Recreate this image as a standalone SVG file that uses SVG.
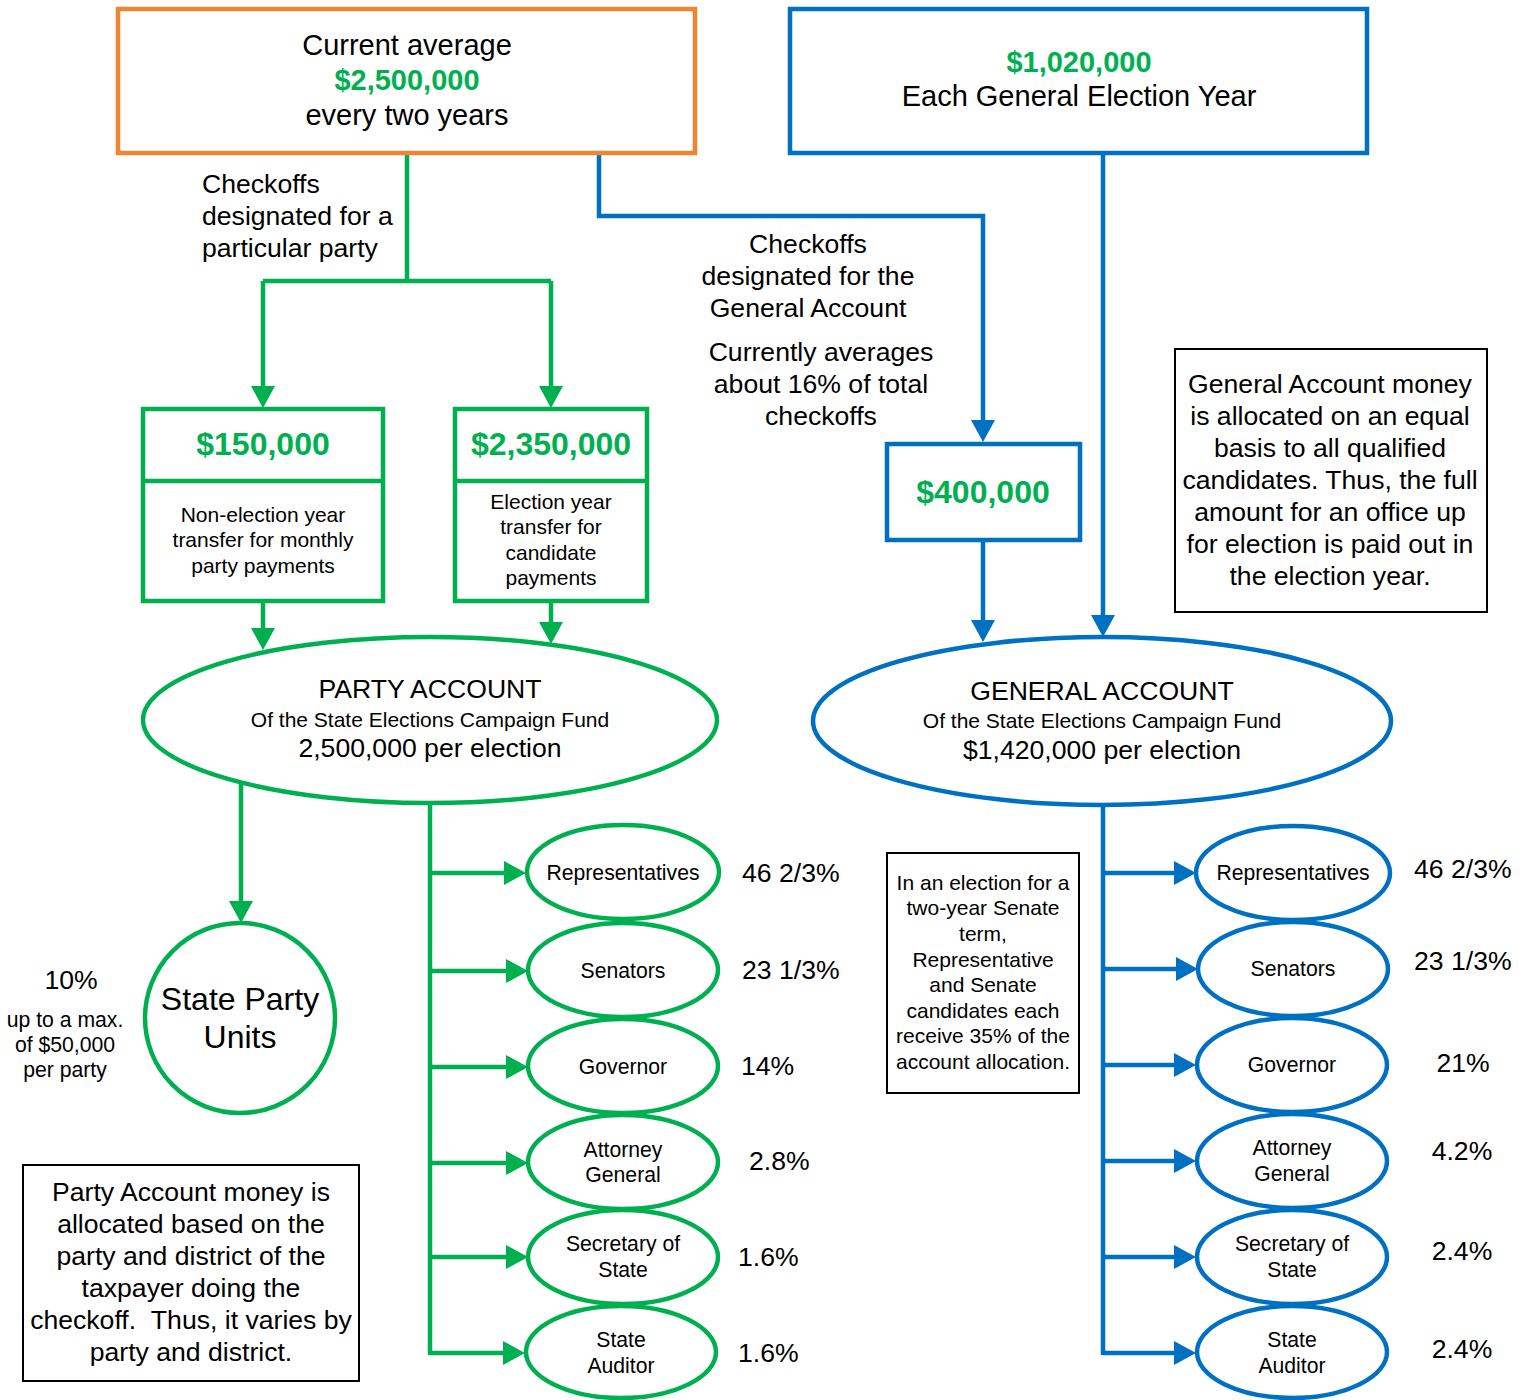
<svg xmlns="http://www.w3.org/2000/svg" width="1526" height="1400" viewBox="0 0 1526 1400">
<style>
text{font-family:"Liberation Sans",Arial,sans-serif;fill:#000}
.c{text-anchor:middle}
.m{font-weight:bold;fill:#00B050}
.g{stroke:#00B050;stroke-width:4.5;fill:none}
.b{stroke:#0070C0;stroke-width:4.5;fill:none}
.o{stroke:#EE8533;stroke-width:4.5;fill:#fff}
.gf{stroke:#00B050;stroke-width:4.5;fill:#fff}
.bf{stroke:#0070C0;stroke-width:4.5;fill:#fff}
.n{fill:#fff;stroke:#000;stroke-width:2}
.s20{font-size:21.2px}
.s21{font-size:21px}
.s26{font-size:26.6px}
.s28{font-size:29px}
.s32{font-size:32px}
</style>
<defs>
<marker id="ag" markerUnits="userSpaceOnUse" markerWidth="24" markerHeight="26" refX="0" refY="12" orient="auto" style="overflow:visible"><path d="M0,0 L22,12 L0,24 z" fill="#00B050"/></marker>
<marker id="ab" markerUnits="userSpaceOnUse" markerWidth="24" markerHeight="26" refX="0" refY="12" orient="auto" style="overflow:visible"><path d="M0,0 L22,12 L0,24 z" fill="#0070C0"/></marker>
</defs>
<rect width="1526" height="1400" fill="#fff"/>

<g id="connectors">
<path class="g" d="M407,153 V281"/>
<path class="g" d="M263,281 H551"/>
<path class="g" d="M263,281 V386" marker-end="url(#ag)"/>
<path class="g" d="M551,281 V386" marker-end="url(#ag)"/>
<path class="g" d="M263,601 V628" marker-end="url(#ag)"/>
<path class="g" d="M551,601 V622" marker-end="url(#ag)"/>
<path class="g" d="M241,783 V901" marker-end="url(#ag)"/>
<path class="g" d="M430,804 V1355"/>
<path class="g" d="M430,873 H504" marker-end="url(#ag)"/>
<path class="g" d="M430,971 H506" marker-end="url(#ag)"/>
<path class="g" d="M430,1067 H506" marker-end="url(#ag)"/>
<path class="g" d="M430,1163 H506" marker-end="url(#ag)"/>
<path class="g" d="M430,1257 H506" marker-end="url(#ag)"/>
<path class="g" d="M430,1353 H503" marker-end="url(#ag)"/>
<path class="b" d="M599,153 V216 H983 V420" marker-end="url(#ab)"/>
<path class="b" d="M983,540 V620" marker-end="url(#ab)"/>
<path class="b" d="M1103,153 V615" marker-end="url(#ab)"/>
<path class="b" d="M1103,805 V1355"/>
<path class="b" d="M1103,873 H1174" marker-end="url(#ab)"/>
<path class="b" d="M1103,969 H1176" marker-end="url(#ab)"/>
<path class="b" d="M1103,1065 H1174" marker-end="url(#ab)"/>
<path class="b" d="M1103,1161 H1174" marker-end="url(#ab)"/>
<path class="b" d="M1103,1257 H1174" marker-end="url(#ab)"/>
<path class="b" d="M1103,1353 H1174" marker-end="url(#ab)"/>
</g>

<g id="labels">
<text class="s26" x="202" y="193">Checkoffs</text>
<text class="s26" x="202" y="225">designated for a</text>
<text class="s26" x="202" y="257">particular party</text>
<text class="s26 c" x="808" y="253">Checkoffs</text>
<text class="s26 c" x="808" y="285">designated for the</text>
<text class="s26 c" x="808" y="317">General Account</text>
<text class="s26 c" x="821" y="361">Currently averages</text>
<text class="s26 c" x="821" y="393">about 16% of total</text>
<text class="s26 c" x="821" y="425">checkoffs</text>
<text class="s26 c" x="71" y="989">10%</text>
<text class="s20 c" x="65" y="1027">up to a max.</text>
<text class="s20 c" x="65" y="1052">of $50,000</text>
<text class="s20 c" x="65" y="1077">per party</text>
<text class="s26" x="742" y="882">46 2/3%</text>
<text class="s26" x="742" y="979">23 1/3%</text>
<text class="s26" x="741" y="1075">14%</text>
<text class="s26" x="749" y="1170">2.8%</text>
<text class="s26" x="738" y="1266">1.6%</text>
<text class="s26" x="738" y="1362">1.6%</text>
<text class="s26" x="1414" y="878">46 2/3%</text>
<text class="s26" x="1414" y="970">23 1/3%</text>
<text class="s26 c" x="1463" y="1072">21%</text>
<text class="s26 c" x="1462" y="1160">4.2%</text>
<text class="s26 c" x="1462" y="1260">2.4%</text>
<text class="s26 c" x="1462" y="1358">2.4%</text>
</g>

<g id="source-orange">
<rect class="o" x="118" y="9" width="577" height="144"/>
<text class="s28 c" x="407" y="55">Current average</text>
<text class="s28 c m" x="407" y="90">$2,500,000</text>
<text class="s28 c" x="407" y="125">every two years</text>
</g>

<g id="source-blue">
<rect class="bf" x="790" y="9" width="577" height="144"/>
<text class="s28 c m" x="1079" y="72">$1,020,000</text>
<text class="s28 c" x="1079" y="106">Each General Election Year</text>
</g>

<g id="box-150000">
<rect class="gf" x="143" y="409" width="240" height="192"/>
<path class="g" d="M143,481 H383"/>
<text class="s32 c m" x="263" y="455">$150,000</text>
<text class="s21 c" x="263" y="522">Non-election year</text>
<text class="s21 c" x="263" y="547">transfer for monthly</text>
<text class="s21 c" x="263" y="573">party payments</text>
</g>

<g id="box-2350000">
<rect class="gf" x="455" y="409" width="192" height="192"/>
<path class="g" d="M455,481 H647"/>
<text class="s32 c m" x="551" y="455">$2,350,000</text>
<text class="s21 c" x="551" y="509">Election year</text>
<text class="s21 c" x="551" y="534">transfer for</text>
<text class="s21 c" x="551" y="560">candidate</text>
<text class="s21 c" x="551" y="585">payments</text>
</g>

<g id="box-400000">
<rect class="bf" x="887" y="444" width="193" height="96"/>
<text class="s32 c m" x="983" y="503">$400,000</text>
</g>

<g id="note-general">
<rect class="n" x="1175" y="349" width="312" height="263"/>
<text class="s26 c" x="1330" y="393">General Account money</text>
<text class="s26 c" x="1330" y="425">is allocated on an equal</text>
<text class="s26 c" x="1330" y="457">basis to all qualified</text>
<text class="s26 c" x="1330" y="489">candidates. Thus, the full</text>
<text class="s26 c" x="1330" y="521">amount for an office up</text>
<text class="s26 c" x="1330" y="553">for election is paid out in</text>
<text class="s26 c" x="1330" y="585">the election year.</text>
</g>

<g id="party-account">
<ellipse class="gf" cx="430" cy="720" rx="287" ry="83"/>
<text class="s26 c" x="430" y="698">PARTY ACCOUNT</text>
<text class="s21 c" x="430" y="727">Of the State Elections Campaign Fund</text>
<text class="s26 c" x="430" y="757">2,500,000 per election</text>
</g>

<g id="general-account">
<ellipse class="bf" cx="1102" cy="721" rx="289" ry="84"/>
<text class="s26 c" x="1102" y="700">GENERAL ACCOUNT</text>
<text class="s21 c" x="1102" y="728">Of the State Elections Campaign Fund</text>
<text class="s26 c" x="1102" y="759">$1,420,000 per election</text>
</g>

<g id="state-party-units">
<circle class="gf" cx="240" cy="1018" r="95"/>
<text class="c" style="font-size:32px" x="240" y="1010">State Party</text>
<text class="c" style="font-size:32px" x="240" y="1048">Units</text>
</g>

<g id="note-party">
<rect class="n" x="23" y="1165" width="336" height="216"/>
<text class="s26 c" x="191" y="1201">Party Account money is</text>
<text class="s26 c" x="191" y="1233">allocated based on the</text>
<text class="s26 c" x="191" y="1265">party and district of the</text>
<text class="s26 c" x="191" y="1297">taxpayer doing the</text>
<text class="s26 c" x="191" y="1329">checkoff. &#160;Thus, it varies by</text>
<text class="s26 c" x="191" y="1361">party and district.</text>
</g>

<g id="note-senate">
<rect class="n" x="887" y="853" width="192" height="240"/>
<text class="s21 c" x="983" y="890">In an election for a</text>
<text class="s21 c" x="983" y="915">two-year Senate</text>
<text class="s21 c" x="983" y="941">term,</text>
<text class="s21 c" x="983" y="967">Representative</text>
<text class="s21 c" x="983" y="992">and Senate</text>
<text class="s21 c" x="983" y="1018">candidates each</text>
<text class="s21 c" x="983" y="1043">receive 35% of the</text>
<text class="s21 c" x="983" y="1069">account allocation.</text>
</g>

<g id="party-representatives"><ellipse class="gf" cx="623" cy="872" rx="96" ry="47"/><text class="s20 c" x="623" y="880">Representatives</text></g>
<g id="party-senators"><ellipse class="gf" cx="623" cy="970" rx="95" ry="47"/><text class="s20 c" x="623" y="978">Senators</text></g>
<g id="party-governor"><ellipse class="gf" cx="623" cy="1066" rx="95" ry="47"/><text class="s20 c" x="623" y="1074">Governor</text></g>
<g id="party-attorney-general"><ellipse class="gf" cx="623" cy="1162" rx="95" ry="47"/><text class="s20 c" x="623" y="1157">Attorney</text><text class="s20 c" x="623" y="1182">General</text></g>
<g id="party-secretary-of-state"><ellipse class="gf" cx="623" cy="1257" rx="95" ry="47"/><text class="s20 c" x="623" y="1251">Secretary of</text><text class="s20 c" x="623" y="1277">State</text></g>
<g id="party-state-auditor"><ellipse class="gf" cx="621" cy="1352" rx="95" ry="46"/><text class="s20 c" x="621" y="1347">State</text><text class="s20 c" x="621" y="1373">Auditor</text></g>

<g id="general-representatives"><ellipse class="bf" cx="1293" cy="873" rx="97" ry="47"/><text class="s20 c" x="1293" y="880">Representatives</text></g>
<g id="general-senators"><ellipse class="bf" cx="1293" cy="969" rx="95" ry="47"/><text class="s20 c" x="1293" y="976">Senators</text></g>
<g id="general-governor"><ellipse class="bf" cx="1292" cy="1065" rx="95" ry="47"/><text class="s20 c" x="1292" y="1072">Governor</text></g>
<g id="general-attorney-general"><ellipse class="bf" cx="1292" cy="1161" rx="95" ry="47"/><text class="s20 c" x="1292" y="1155">Attorney</text><text class="s20 c" x="1292" y="1181">General</text></g>
<g id="general-secretary-of-state"><ellipse class="bf" cx="1292" cy="1257" rx="95" ry="47"/><text class="s20 c" x="1292" y="1251">Secretary of</text><text class="s20 c" x="1292" y="1277">State</text></g>
<g id="general-state-auditor"><ellipse class="bf" cx="1292" cy="1352" rx="95" ry="46"/><text class="s20 c" x="1292" y="1347">State</text><text class="s20 c" x="1292" y="1373">Auditor</text></g>
</svg>
